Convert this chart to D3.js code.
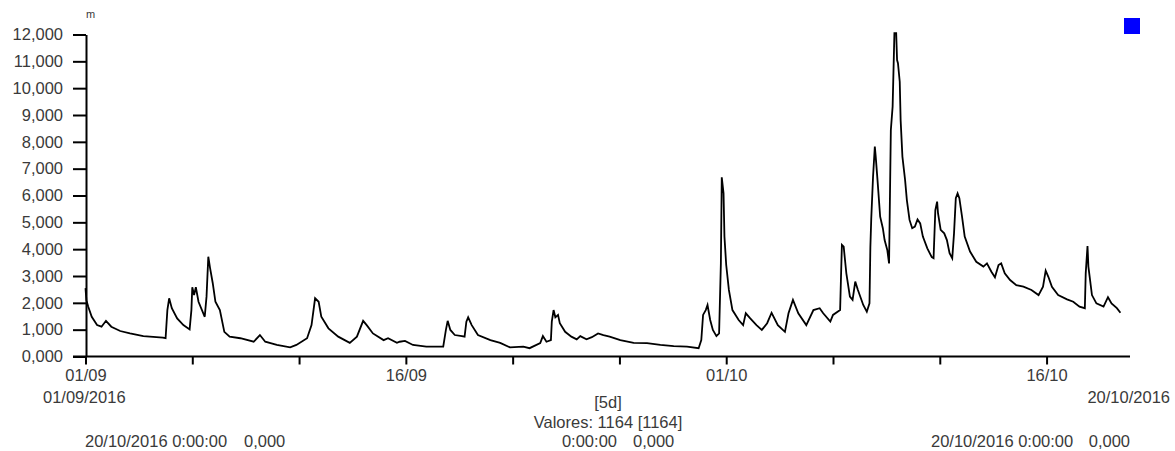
<!DOCTYPE html>
<html>
<head>
<meta charset="utf-8">
<script src="https://cdn.jsdelivr.net/npm/d3@7/dist/d3.min.js"></script>
<style>
  html, body { margin: 0; padding: 0; background: #fff; }
  svg { display: block; }
  text { font-family: "Liberation Sans", Arial, sans-serif; fill: #3a3a3a; }
</style>
</head>
<body>
<svg id="chart" width="1175" height="451"></svg>
<script>
// Hours since 01/09/2016 00:00 and level values (m)
const hours = [0,1,3,7,13,18,23,29,39,50,65,87,90,92,94,97,103,110,117,119,120,122,124,127,134,136,138,140,143,146,151,156,162,174,189,196,202,215,230,237,249,254,258,262,265,273,284,297,305,312,316,323,335,340,350,353,359,368,383,402,405,407,410,415,423,426,428,430,434,441,455,466,477,492,499,511,514,518,523,524,526,528,531,533,539,546,552,556,563,569,576,582,589,601,616,631,646,661,676,689,692,694,697,699,702,705,709,712,714,715,717,718,720,723,727,734,739,742,747,754,760,766,771,778,786,790,795,801,810,818,825,829,837,840,848,849,850,852,855,859,862,865,868,874,878,881,882,883,885,887,888,890,893,896,898,901,903,905,907,909,911,912,913,915,916,918,921,923,926,929,932,935,938,941,946,951,953,955,957,958,961,965,968,971,974,976,978,980,982,985,988,994,1001,1009,1013,1018,1022,1026,1029,1033,1039,1046,1054,1063,1071,1076,1079,1082,1086,1093,1103,1110,1117,1123,1124,1126,1127,1131,1136,1144,1149,1153,1159,1163];
const level = [2.55,2.10,1.86,1.48,1.17,1.11,1.33,1.11,0.95,0.86,0.76,0.70,0.68,1.73,2.17,1.80,1.42,1.17,1.01,1.73,2.58,2.29,2.58,2.04,1.48,2.23,3.72,3.29,2.73,2.04,1.73,0.92,0.74,0.68,0.55,0.80,0.55,0.43,0.34,0.43,0.68,1.17,2.17,2.04,1.48,1.05,0.74,0.51,0.74,1.33,1.17,0.86,0.61,0.68,0.51,0.55,0.58,0.43,0.37,0.37,0.99,1.33,0.99,0.80,0.76,0.74,1.30,1.46,1.17,0.80,0.61,0.51,0.34,0.37,0.31,0.50,0.76,0.55,0.61,1.30,1.73,1.46,1.55,1.24,0.92,0.74,0.64,0.76,0.64,0.72,0.86,0.80,0.74,0.61,0.51,0.50,0.43,0.39,0.37,0.31,0.61,1.55,1.73,1.92,1.36,0.99,0.76,0.86,3.47,6.68,6.08,4.47,3.41,2.48,1.73,1.36,1.17,1.61,1.42,1.17,0.99,1.24,1.63,1.17,0.92,1.61,2.11,1.61,1.17,1.73,1.80,1.61,1.30,1.55,1.73,2.97,4.16,4.09,3.10,2.23,2.11,2.79,2.48,1.92,1.67,1.98,4.09,5.15,6.70,7.82,7.45,6.58,5.21,4.78,4.34,3.97,3.47,8.44,9.31,12.05,12.05,11.05,10.93,10.24,8.81,7.45,6.58,5.83,5.09,4.78,4.84,5.11,4.96,4.47,4.03,3.70,3.66,5.46,5.77,5.34,4.72,4.59,4.34,3.85,3.66,4.59,5.90,6.08,5.90,5.21,4.47,3.91,3.53,3.35,3.47,3.16,2.95,3.41,3.47,3.10,2.85,2.66,2.60,2.48,2.29,2.60,3.20,2.97,2.60,2.29,2.13,2.04,1.86,1.80,3.10,4.12,3.35,2.29,1.98,1.86,2.21,1.98,1.80,1.63];

const yTicks = [0,1,2,3,4,5,6,7,8,9,10,11,12];
const tickDates = ["2016-09-01","2016-09-06","2016-09-11","2016-09-16","2016-09-21","2016-09-26","2016-10-01","2016-10-06","2016-10-11","2016-10-16"];
const tickLabels = ["01/09","","","16/09","","","01/10","","","16/10"];
const domainDates = ["2016-09-01","2016-10-20"];
const unitLabel = "m";
const startLabel = "01/09/2016";
const endLabel = "20/10/2016";
const intervalLabel = "[5d]";
const countLabel = "Valores: 1164 [1164]";
const cursorLeft = ["20/10/2016 0:00:00", "0,000"];
const cursorMid = ["0:00:00", "0,000"];
const cursorRight = ["20/10/2016 0:00:00", "0,000"];

const svg = d3.select("#chart");
const t0 = new Date(domainDates[0] + "T00:00:00Z");
const data = hours.map((h, i) => ({ t: new Date(t0.getTime() + h * 3600e3), v: level[i] }));

const x = d3.scaleUtc()
  .domain(domainDates.map(d => new Date(d + "T00:00:00Z")))
  .range([85.5, 1132]);
const y = d3.scaleLinear().domain([0, 12]).range([356.5, 34.5]);

const loc = d3.formatLocale({ decimal: ",", thousands: ".", grouping: [3], currency: ["", ""] });
const fmt = loc.format(".3f");
const fs = "16.5px";

// Y axis
const gy = svg.append("g").attr("transform", "translate(86,0)")
  .call(d3.axisLeft(y).tickValues(yTicks).tickSize(13).tickSizeOuter(0).tickPadding(10).tickFormat(fmt));
gy.selectAll("path, line").attr("stroke", "#000").attr("stroke-width", 2);
gy.selectAll("text").style("font-size", fs).attr("font-family", null);

// X axis
const gx = svg.append("g").attr("transform", "translate(0,356.5)")
  .call(d3.axisBottom(x).tickValues(tickDates.map(d => new Date(d + "T00:00:00Z")))
    .tickSize(8).tickSizeOuter(0).tickPadding(5).tickFormat((d, i) => tickLabels[i]));
gx.select(".domain").remove();
gx.selectAll("line").attr("stroke", "#000").attr("stroke-width", 2);
gx.selectAll("text").style("font-size", fs);
svg.append("line")
  .attr("x1", 73).attr("x2", x.range()[1] - 2)
  .attr("y1", 356.5).attr("y2", 356.5)
  .attr("stroke", "#000").attr("stroke-width", 2);

// Data line
const line = d3.line().x(d => x(d.t)).y(d => y(d.v));
svg.append("path").datum(data)
  .attr("d", line)
  .attr("fill", "none")
  .attr("stroke", "#000")
  .attr("stroke-width", 1.8)
  .attr("stroke-linejoin", "miter");

// Unit label
svg.append("text").attr("x", 86).attr("y", 18).style("font-size", "11px").text(unitLabel);

// Legend square
svg.append("rect").attr("x", 1124).attr("y", 18).attr("width", 16).attr("height", 16).attr("fill", "#0000ff");

// Bottom texts
svg.append("text").attr("x", 43).attr("y", 403).style("font-size", fs).text(startLabel);
svg.append("text").attr("x", 1170).attr("y", 403).attr("text-anchor", "end").style("font-size", fs).text(endLabel);
svg.append("text").attr("x", 608).attr("y", 408).attr("text-anchor", "middle").style("font-size", fs).text(intervalLabel);
svg.append("text").attr("x", 608).attr("y", 428).attr("text-anchor", "middle").style("font-size", fs).text(countLabel);

svg.append("text").attr("x", 85).attr("y", 447).style("font-size", fs).text(cursorLeft[0]);
svg.append("text").attr("x", 244).attr("y", 447).style("font-size", fs).text(cursorLeft[1]);
svg.append("text").attr("x", 617).attr("y", 447).attr("text-anchor", "end").style("font-size", fs).text(cursorMid[0]);
svg.append("text").attr("x", 633).attr("y", 447).style("font-size", fs).text(cursorMid[1]);
svg.append("text").attr("x", 931).attr("y", 447).style("font-size", fs).text(cursorRight[0]);
svg.append("text").attr("x", 1130).attr("y", 447).attr("text-anchor", "end").style("font-size", fs).text(cursorRight[1]);
</script>
</body>
</html>
